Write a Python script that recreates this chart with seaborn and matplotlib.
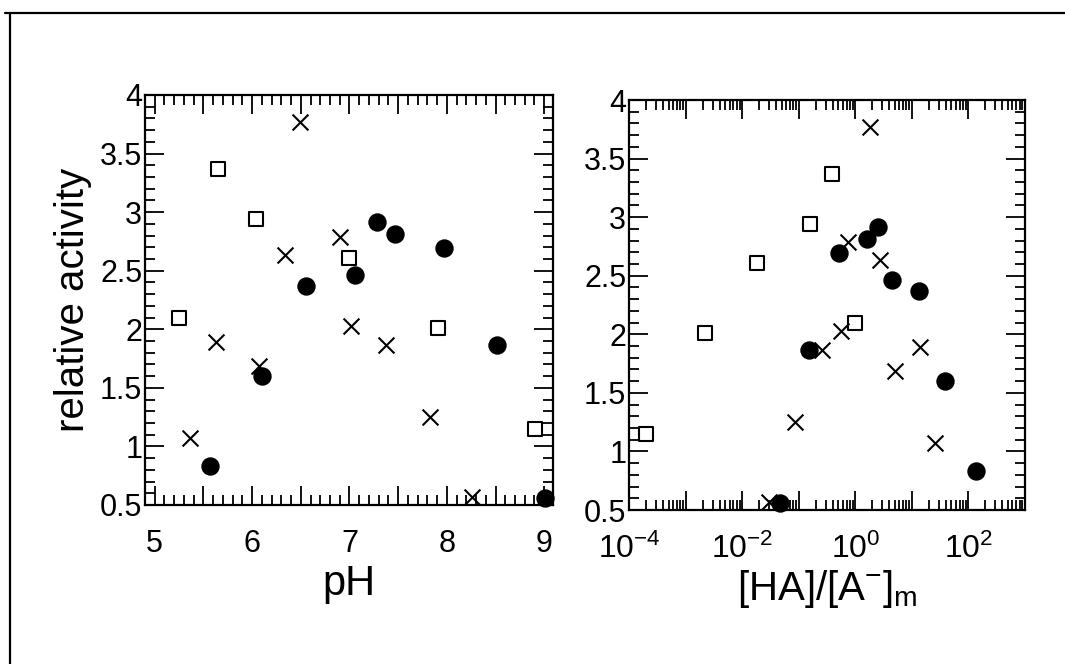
import numpy as np
import pandas as pd
import seaborn as sns
import matplotlib.pyplot as plt
from matplotlib.lines import Line2D
from matplotlib.ticker import LogLocator, FixedLocator, NullFormatter

# Data
# open squares
sq_ph = [5.25, 5.65, 6.04, 7.00, 7.91, 8.91]
sq_ratio = [1.0, 0.39, 0.16, 0.018, 0.0022, 0.0002]
sq_act = [2.10, 3.37, 2.94, 2.61, 2.01, 1.15]

# crosses
x_ph = [6.49, 6.90, 6.34, 7.02, 5.63, 7.37, 6.07, 7.83, 5.36, 8.26]
x_ratio = [1.8, 0.74, 2.7, 0.56, 13.8, 0.26, 5.1, 0.087, 25.7, 0.030]
x_act = [3.77, 2.79, 2.63, 2.03, 1.89, 1.87, 1.69, 1.25, 1.07, 0.57]

# filled circles
c_ph = [7.28, 7.47, 7.97, 7.06, 6.55, 8.51, 6.10, 5.57, 9.01]
c_ratio = [2.5, 1.6, 0.51, 4.4, 13.5, 0.15, 38.0, 135.0, 0.046]
c_act = [2.92, 2.81, 2.69, 2.46, 2.37, 1.87, 1.60, 0.83, 0.56]

y_ticks = [0.5, 1, 1.5, 2, 2.5, 3, 3.5, 4]
y_labels = ['0.5', '1', '1.5', '2', '2.5', '3', '3.5', '4']

sq = pd.DataFrame({'pH': sq_ph, 'ratio': sq_ratio, 'act': sq_act})
cr = pd.DataFrame({'pH': x_ph, 'ratio': x_ratio, 'act': x_act})
ci = pd.DataFrame({'pH': c_ph, 'ratio': c_ratio, 'act': c_act})

sns.set_theme(style='ticks')
plt.rcParams['font.family'] = ['Liberation Sans', 'DejaVu Sans']
plt.rcParams['mathtext.fontset'] = 'custom'
plt.rcParams['mathtext.rm'] = 'Liberation Sans'
plt.rcParams['mathtext.it'] = 'Liberation Sans'
for k in ['text.color', 'axes.labelcolor', 'xtick.color', 'ytick.color']:
    plt.rcParams[k] = 'black'

fig = plt.figure(figsize=(10.65, 6.64), dpi=100)
ax1 = fig.add_axes([145/1065, 1 - 505/664, 408/1065, 410/664])
ax2 = fig.add_axes([629/1065, 1 - 510/664, 396/1065, 410/664])


def draw(ax, xcol):
    sns.scatterplot(data=sq, x=xcol, y='act', ax=ax, marker='s', s=110,
                    facecolor='white', edgecolor='black', linewidth=1.5,
                    clip_on=False, zorder=3)
    sns.scatterplot(data=cr, x=xcol, y='act', ax=ax, marker='x', s=130,
                    color='black', linewidth=1.5, clip_on=False, zorder=3)
    sns.scatterplot(data=ci, x=xcol, y='act', ax=ax, marker='o', s=150,
                    color='black', edgecolor='black', clip_on=False, zorder=3)
    ax.set_yticks(y_ticks)
    ax.set_yticklabels(y_labels)
    ax.set_yticks(np.arange(0.5, 4.0, 0.1), minor=True)
    ax.set_ylim(0.5, 4)
    ax.tick_params(which='both', direction='in', top=True, right=True,
                   labelsize=22, width=1.3)
    ax.tick_params(which='major', length=14)
    ax.tick_params(which='minor', length=7)
    ax.tick_params(axis='y', which='major', pad=2)
    ax.tick_params(axis='x', which='major', pad=17)
    for sp in ax.spines.values():
        sp.set_linewidth(1.6)
        sp.set_color('black')


draw(ax1, 'pH')
ax1.set_xticks(np.arange(5, 9.01, 0.5))
ax1.set_xticklabels(['5', '', '6', '', '7', '', '8', '', '9'])
ax1.set_xticks(np.arange(4.9, 9.1, 0.1), minor=True)
ax1.set_xlim(4.9, 9.09)
ax1.set_xlabel('pH', fontsize=30, labelpad=4)
ax1.set_ylabel('relative activity', fontsize=29, labelpad=6)

draw(ax2, 'ratio')
ax2.set_xscale('log')
ax2.xaxis.set_major_locator(FixedLocator([10.0 ** k for k in range(-4, 4)]))
ax2.xaxis.set_minor_locator(LogLocator(base=10, subs=np.arange(2, 10), numticks=20))
ax2.xaxis.set_minor_formatter(NullFormatter())
ax2.set_xticklabels(['$10^{-4}$', '', '$10^{-2}$', '', '$10^{0}$', '', '$10^{2}$', ''],
                    fontsize=23)
ax2.set_xlim(1e-4, 1e3)
ax2.set_xlabel('[HA]/[A$^{-}$]$_{\\mathregular{m}}$', fontsize=29, labelpad=2)
ax2.set_ylabel('')

# frame of the scanned page
fig.add_artist(Line2D([5/1065, 1], [1 - 13/664, 1 - 13/664], color='black', lw=1.6))
fig.add_artist(Line2D([10/1065, 10/1065], [0, 1 - 13/664], color='black', lw=1.6))

fig.savefig('out.png', dpi=100, facecolor='white')
